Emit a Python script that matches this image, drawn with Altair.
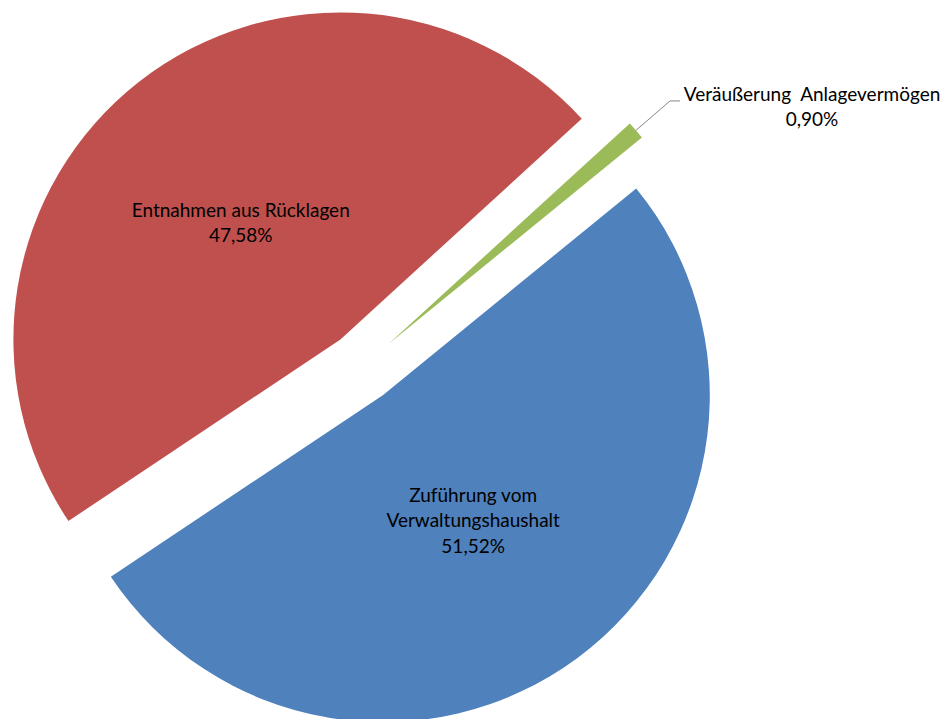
import math
import altair as alt
import pandas as pd

# ---- data ----
categories = ["Zuführung vom Verwaltungshaushalt", "Entnahmen aus Rücklagen", "Veräußerung  Anlagevermögen"]
label_text = ["Zuführung vom\nVerwaltungshaushalt", "Entnahmen aus Rücklagen", "Veräußerung \u00a0Anlagevermögen"]
shares = [51.52, 47.58, 0.90]
share_labels = ["51,52%", "47,58%", "0,90%"]
colors = ["#4F81BD", "#C0504D", "#9BBB59"]

# ---- layout constants ----
W, H = 934, 711
CX, CY = 354, 359
R = 327
EXPLODE = 35
START_DEG = 50.8
LABEL_R = 147
FONT = "Lato"
FS = 19
LH = 25.5

total = sum(shares)
rows = []
cum = 0.0
for cat, lt, s, sl in zip(categories, label_text, shares, share_labels):
    t0 = math.radians(START_DEG) + cum / total * 2 * math.pi
    cum += s
    t1 = math.radians(START_DEG) + cum / total * 2 * math.pi
    mid = (t0 + t1) / 2
    ux, uy = math.sin(mid), -math.cos(mid)
    ax, ay = CX + EXPLODE * ux, CY + EXPLODE * uy
    text = lt + "\n" + sl
    rows.append(dict(cat=cat, t0=t0, t1=t1, cx=ax, cy=ay, ux=ux, uy=uy,
                     text=text, nlines=text.count("\n") + 1))
df = pd.DataFrame(rows)

# inside labels (the two large slices), block-centred
inside = df.iloc[:2].copy()
inside["lx"] = inside["cx"] + LABEL_R * inside["ux"]
inside["ly"] = inside["cy"] + LABEL_R * inside["uy"]
# best-fit nudges, as in the reference
inside.loc[0, "lx"] += 3
inside.loc[0, "ly"] += 8
inside.loc[1, "lx"] += -9
inside["ly"] = inside["ly"] - (inside["nlines"] - 1) * LH / 2

# outside label with leader for the tiny slice
g = df.iloc[2]
p0 = (g.cx + R * g.ux, g.cy + R * g.uy)
p1 = (g.cx + (R + 45) * g.ux, g.cy + (R + 45) * g.uy)
p2 = (p1[0] + 10, p1[1])
leader = pd.DataFrame({"x": [p0[0], p1[0], p2[0]], "y": [p0[1], p1[1], p2[1]], "o": [0, 1, 2]})
outside = pd.DataFrame({"lx": [p2[0] + 132], "ly": [p2[1] - 6], "text": [g.text]})

slices = alt.Chart(df).mark_arc(outerRadius=R).encode(
    theta=alt.Theta("t0:Q", scale=None),
    theta2="t1:Q",
    x=alt.X("cx:Q", scale=None, axis=None),
    y=alt.Y("cy:Q", scale=None, axis=None),
    color=alt.Color("cat:N", scale=alt.Scale(domain=categories, range=colors), legend=None),
)

txt_in = alt.Chart(inside).mark_text(
    font=FONT, fontSize=FS, color="#000000", align="center", baseline="middle",
    lineBreak="\n", lineHeight=LH,
).encode(
    x=alt.X("lx:Q", scale=None, axis=None),
    y=alt.Y("ly:Q", scale=None, axis=None),
    text="text:N",
)

lead = alt.Chart(leader).mark_line(color="#868686", strokeWidth=1).encode(
    x=alt.X("x:Q", scale=None, axis=None),
    y=alt.Y("y:Q", scale=None, axis=None),
    order="o:Q",
)

txt_out = alt.Chart(outside).mark_text(
    font=FONT, fontSize=FS, color="#000000", align="center", baseline="middle",
    lineBreak="\n", lineHeight=LH,
).encode(
    x=alt.X("lx:Q", scale=None, axis=None),
    y=alt.Y("ly:Q", scale=None, axis=None),
    text="text:N",
)

chart = alt.layer(slices, lead, txt_in, txt_out).properties(
    width=W, height=H, padding=0, autosize=alt.AutoSizeParams(type="none"),
    background="white",
).configure_view(stroke=None)

chart.save("out.html", embed_options={"renderer": "svg", "actions": False})
